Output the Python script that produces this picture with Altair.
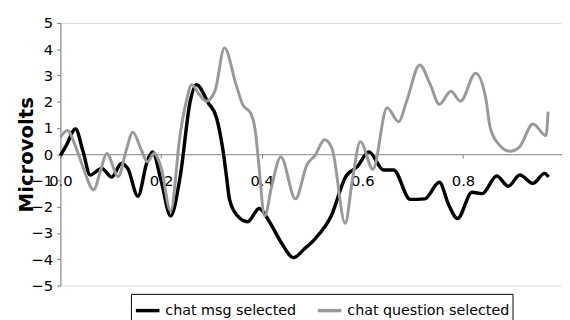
import altair as alt
import pandas as pd

# Series: chat msg selected (black)
msg_x = [0, 0.012, 0.030, 0.045, 0.059, 0.082, 0.102, 0.121, 0.134, 0.154, 0.172, 0.183,
         0.200, 0.219, 0.238, 0.258, 0.270, 0.294, 0.310, 0.323, 0.330, 0.336, 0.352,
         0.372, 0.395, 0.414, 0.440, 0.463, 0.485, 0.506, 0.538, 0.567, 0.590, 0.613,
         0.642, 0.662, 0.695, 0.724, 0.753, 0.772, 0.789, 0.818, 0.838, 0.867, 0.890,
         0.913, 0.939, 0.962, 0.970]
msg_y = [-0.05, 0.35, 0.96, 0.1, -0.79, -0.54, -0.87, -0.35, -0.55, -1.6, -0.3, 0.09,
         -1.0, -2.35, -0.85, 2.02, 2.65, 1.95, 1.40, 0.15, -0.85, -1.72, -2.35,
         -2.57, -2.07, -2.53, -3.4, -3.94, -3.6, -3.22, -2.35, -0.85, -0.47, 0.09,
         -0.6, -0.6, -1.72, -1.70, -1.07, -1.95, -2.45, -1.45, -1.5, -0.83, -1.22,
         -0.79, -1.11, -0.73, -0.87]

# Series: chat question selected (grey)
q_x = [0, 0.014, 0.030, 0.045, 0.066, 0.080, 0.092, 0.115, 0.130, 0.144, 0.160, 0.173,
       0.186, 0.200, 0.219, 0.238, 0.250, 0.261, 0.275, 0.290, 0.307, 0.326, 0.349,
       0.362, 0.379, 0.388, 0.394, 0.406, 0.420, 0.438, 0.467, 0.490, 0.506, 0.525,
       0.540, 0.566, 0.580, 0.596, 0.621, 0.649, 0.672, 0.688, 0.714, 0.735, 0.753,
       0.776, 0.795, 0.825, 0.845, 0.854, 0.870, 0.893, 0.912, 0.939, 0.965, 0.969]
q_y = [0.65, 0.9, 0.3, -0.5, -1.35, -0.6, 0.03, -0.85, 0.1, 0.84, 0.2, -0.29,
       0.03, -0.5, -2.16, 0.77, 2.0, 2.65, 2.3, 2.02, 2.4, 4.05, 2.65,
       1.90, 1.53, 0.78, -0.35, -2.35, -1.2, -0.1, -1.7, -0.4, -0.04, 0.55,
       0.2, -2.63, -1.0, 0.48, -0.57, 1.77, 1.24, 2.02, 3.40, 2.65, 1.90,
       2.40, 2.02, 3.08, 2.15, 1.02, 0.4, 0.11, 0.27, 1.15, 0.71, 1.62]

series_names = ["chat msg selected", "chat question selected"]
series_colors = ["#000000", "#999999"]
x_ticks = [0, 0.2, 0.4, 0.6, 0.8]
y_ticks = [-5, -4, -3, -2, -1, 0, 1, 2, 3, 4, 5]

df_msg = pd.DataFrame({"x": msg_x, "y": msg_y, "series": series_names[0]})
df_q = pd.DataFrame({"x": q_x, "y": q_y, "series": series_names[1]})

FONT = "DejaVu Sans"

xenc = alt.X("x:Q", scale=alt.Scale(domain=[0, 0.9967], nice=False, zero=False),
             axis=alt.Axis(values=x_ticks, title=None, offset=-133.5, grid=False,
                           domainColor="#808080", tickColor="#808080", tickSize=4,
                           labelPadding=16, labelFont=FONT, labelFontSize=15,
                           labelColor="#000000", labelFlush=False))
yenc = alt.Y("y:Q", scale=alt.Scale(domain=[-5, 5], nice=False),
             axis=alt.Axis(values=y_ticks, title="Microvolts", grid=False,
                           domainColor="#808080", tickColor="#808080", tickSize=4,
                           labelPadding=4, labelFont=FONT, labelFontSize=15,
                           labelColor="#000000",
                           titleFont=FONT, titleFontSize=20, titleFontWeight="bold",
                           titleAngle=270, titleX=-28.3, titleY=133.5,
                           titleAlign="center", titleBaseline="alphabetic",
                           titleColor="#000000"))
color = alt.Color("series:N",
                  scale=alt.Scale(domain=series_names, range=series_colors),
                  legend=alt.Legend(title=None, orient="none", legendX=71.7, legendY=275.5,
                                    direction="horizontal", strokeColor="#000000",
                                    padding=3, symbolType="stroke", symbolSize=576,
                                    symbolStrokeWidth=3.5, labelFont=FONT, labelFontSize=14.5,
                                    labelLimit=400, gridAlign="none",
                                    labelColor="#000000", columnPadding=14, labelOffset=4,
                                    fillColor="#ffffff"))

line_msg = alt.Chart(df_msg).mark_line(strokeWidth=3.5, interpolate="monotone").encode(
    x=xenc, y=yenc, color=color)
line_q = alt.Chart(df_q).mark_line(strokeWidth=3, interpolate="monotone").encode(
    x=xenc, y=yenc, color=color)

chart = alt.layer(line_msg, line_q).properties(
    width=510, height=267,
    autosize=alt.AutoSizeParams(type="none"),
    padding={"left": 53.3, "top": 12.5, "right": 0, "bottom": 40},
).configure_view(stroke="#808080", strokeWidth=1).configure(background="#ffffff")

chart.save("out.html", embed_options={"renderer": "svg", "actions": False})
